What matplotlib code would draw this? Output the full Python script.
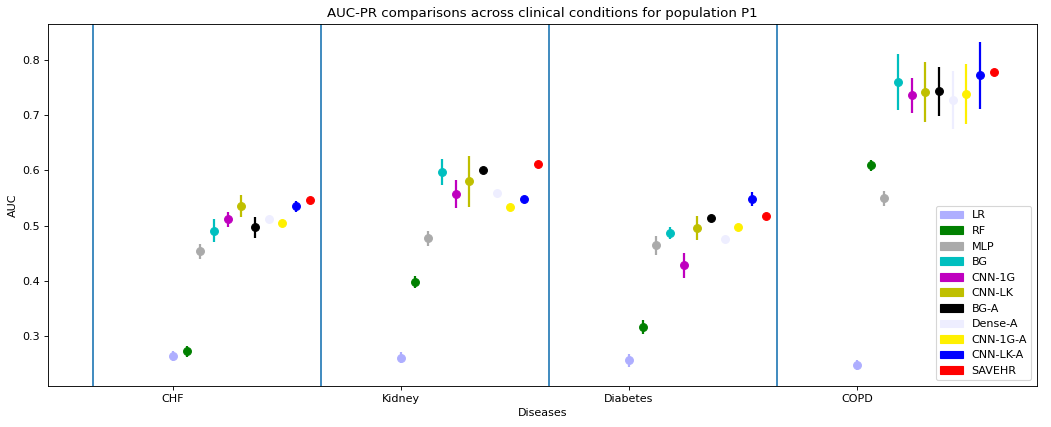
import matplotlib
matplotlib.use("Agg")
import matplotlib.pyplot as plt
import matplotlib.patches as mpatches
import numpy as np

# Dados
diseases = ["CHF", "Kidney", "Diabetes", "COPD"]
models = ["LR", "RF", "MLP", "BG", "CNN-1G", "CNN-LK", "BG-A", "Dense-A",
          "CNN-1G-A", "CNN-LK-A", "SAVEHR"]
colors = ["#aeaeff", "green", "#aaaaaa", "c", "m", "y", "k", "#eeeeff",
          "#fff000", "b", "r"]

# AUC-PR media por modelo (linhas) e doenca (colunas: CHF, Kidney, Diabetes, COPD)
auc_mean = [
    [0.263, 0.261, 0.256, 0.247],
    [0.272, 0.397, 0.316, 0.609],
    [0.453, 0.477, 0.464, 0.549],
    [0.491, 0.597, 0.486, 0.760],
    [0.511, 0.557, 0.428, 0.736],
    [0.535, 0.580, 0.495, 0.742],
    [0.497, 0.600, 0.513, 0.743],
    [0.511, 0.559, 0.475, 0.727],
    [0.504, 0.533, 0.497, 0.738],
    [0.535, 0.548, 0.548, 0.772],
    [0.546, 0.611, 0.517, 0.778],
]
auc_err = [
    [0.009, 0.010, 0.012, 0.009],
    [0.010, 0.011, 0.013, 0.010],
    [0.014, 0.014, 0.017, 0.013],
    [0.020, 0.023, 0.011, 0.051],
    [0.013, 0.026, 0.023, 0.032],
    [0.020, 0.046, 0.022, 0.054],
    [0.019, 0.003, 0.003, 0.045],
    [0.003, 0.003, 0.003, 0.053],
    [0.003, 0.003, 0.003, 0.054],
    [0.010, 0.004, 0.012, 0.061],
    [0.003, 0.003, 0.003, 0.003],
]

# Figura
fig, ax = plt.subplots(figsize=(1051 / 80, 427 / 80), dpi=80)

pos = np.arange(len(diseases))
step = 0.06
for j, name in enumerate(models):
    ax.errorbar(pos + j * step, auc_mean[j], yerr=auc_err[j], fmt="o",
                color=colors[j], ecolor=colors[j], elinewidth=2,
                markersize=7, capsize=0)

for p in pos:
    ax.axvline(p - 0.35, color="C0", linewidth=1.5)

handles = [mpatches.Patch(color=c, label=m) for m, c in zip(models, colors)]
ax.legend(handles=handles, loc="lower right")

# Ajustes
ax.set_xticks(pos)
ax.set_xticklabels(diseases)
ax.set_xlim(-0.548, 3.79)
ax.set_ylim(0.2094, 0.865)
ax.set_xlabel("Diseases")
ax.set_ylabel("AUC")
ax.set_title("AUC-PR comparisons across clinical conditions for population P1")

fig.subplots_adjust(left=48 / 1051, right=1037 / 1051, top=1 - 24 / 427,
                    bottom=1 - 386 / 427)
fig.savefig("out.png", dpi=80)
